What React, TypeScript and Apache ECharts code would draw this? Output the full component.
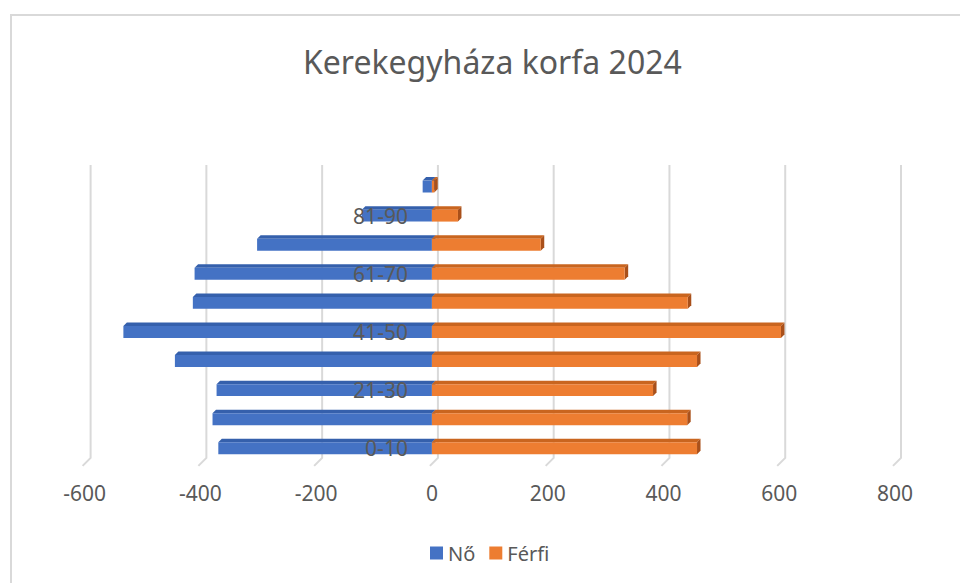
import React, { useEffect, useRef } from "react";
import * as echarts from "echarts";

const categories = ["0-10", "11-20", "21-30", "31-40", "41-50", "51-60", "61-70", "71-80", "81-90", "91+"];
const noValues = [-369, -379, -372, -444, -533, -413, -410, -302, -121, -16];
const ferfiValues = [458, 441, 382, 458, 603, 442, 333, 188, 45, 4];
const xTicks = [-600, -400, -200, 0, 200, 400, 600, 800];

const FONT = "'Noto Sans', 'Open Sans', sans-serif";
const GRAY = "#595959";
const X_MIN = -600;
const X_MAX = 800;
const GRID_LEFT = 84.6;
const GRID_RIGHT = 65;
const WIDTH = 960;
const HEIGHT = 583;

function bar3d(front: string, top: string, side: string) {
  return (params: any, api: any) => {
    const v = api.value(0);
    const c = api.value(1);
    const p0 = api.coord([0, c]);
    const p1 = api.coord([v, c]);
    const band = api.size([0, 1])[1];
    const h = band * 0.41;
    const x0 = Math.min(p0[0], p1[0]);
    const x1 = Math.max(p0[0], p1[0]);
    const y0 = p0[1] - h / 2;
    const y1 = p0[1] + h / 2;
    const d = 3.5;
    return {
      type: "group",
      children: [
        { type: "polygon", shape: { points: [[x0, y0], [x1, y0], [x1 + d, y0 - d], [x0 + d, y0 - d]] }, style: { fill: top } },
        { type: "polygon", shape: { points: [[x1, y0], [x1 + d, y0 - d], [x1 + d, y1 - d], [x1, y1]] }, style: { fill: side } },
        { type: "rect", shape: { x: x0, y: y0, width: x1 - x0, height: h }, style: { fill: front } },
      ],
    };
  };
}

export default function App() {
  const ref = useRef<HTMLDivElement>(null);
  useEffect(() => {
    if (!ref.current) return;
    const chart = echarts.init(ref.current, null, { renderer: "svg" });
    const gridWidth = WIDTH - GRID_LEFT - GRID_RIGHT;
    const zeroOffset = ((0 - X_MIN) / (X_MAX - X_MIN)) * gridWidth;
    chart.setOption({
      animation: false,
      backgroundColor: "#ffffff",
      textStyle: { fontFamily: FONT },
      title: {
        text: "Kerekegyháza korfa 2024",
        left: 298,
        top: 40,
        textStyle: { fontFamily: FONT, fontSize: 32, fontWeight: "normal", color: GRAY },
      },
      graphic: [
        {
          type: "rect",
          shape: { x: 11, y: 15, width: 2000, height: 2000 },
          style: { fill: "none", stroke: "#d9d9d9", lineWidth: 2 },
          silent: true,
          z: -1,
        },
      ],
      legend: {
        data: ["Nő", "Férfi"],
        left: 425,
        top: 538,
        icon: "rect",
        itemWidth: 13,
        itemHeight: 13,
        itemGap: 14,
        textStyle: { fontFamily: FONT, fontSize: 20, color: GRAY },
      },
      grid: { left: GRID_LEFT, right: GRID_RIGHT, top: 172, bottom: 120.15, containLabel: false },
      xAxis: {
        type: "value",
        min: X_MIN,
        max: X_MAX,
        interval: 200,
        axisLine: { show: false },
        axisTick: { show: false },
        splitLine: { show: false },
        axisLabel: { fontFamily: FONT, fontSize: 21, color: GRAY, margin: 20 },
      },
      yAxis: {
        type: "category",
        data: categories,
        z: 10,
        offset: -zeroOffset,
        axisLine: { show: false, onZero: false },
        axisTick: { show: false },
        splitLine: { show: false },
        axisLabel: { interval: 1, fontFamily: FONT, fontSize: 21, color: GRAY, margin: 24, padding: [7, 0, 0, 0] },
      },
      series: [
        {
          type: "custom",
          name: "grid",
          silent: true,
          z: 1,
          data: xTicks.map((v) => [v, 0]),
          encode: { x: 0, y: 1 },
          renderItem: (params: any, api: any) => {
            const x = api.coord([api.value(0), 0])[0];
            const cs = params.coordSys;
            const yTop = cs.y - 7;
            const yBack = cs.y + cs.height - 5;
            const yFront = cs.y + cs.height + 3;
            return {
              type: "polyline",
              shape: { points: [[x + 6, yTop], [x + 6, yBack], [x - 2, yFront]] },
              style: { stroke: "#d9d9d9", lineWidth: 2, fill: "none" },
            };
          },
        },
        {
          type: "custom",
          name: "Nő",
          z: 2,
          itemStyle: { color: "#4472C4" },
          data: noValues.map((v, i) => [v, i]),
          encode: { x: 0, y: 1 },
          renderItem: bar3d("#4472C4", "#3560AC", "#2F5597"),
        },
        {
          type: "custom",
          name: "Férfi",
          z: 3,
          itemStyle: { color: "#ED7D31" },
          data: ferfiValues.map((v, i) => [v, i]),
          encode: { x: 0, y: 1 },
          renderItem: bar3d("#ED7D31", "#C9651F", "#A9501A"),
        },
      ],
    });
    return () => chart.dispose();
  }, []);
  return (
    <div
      ref={ref}
      style={{ position: "absolute", left: 0, top: 0, width: WIDTH, height: HEIGHT, background: "#fff" }}
    />
  );
}
